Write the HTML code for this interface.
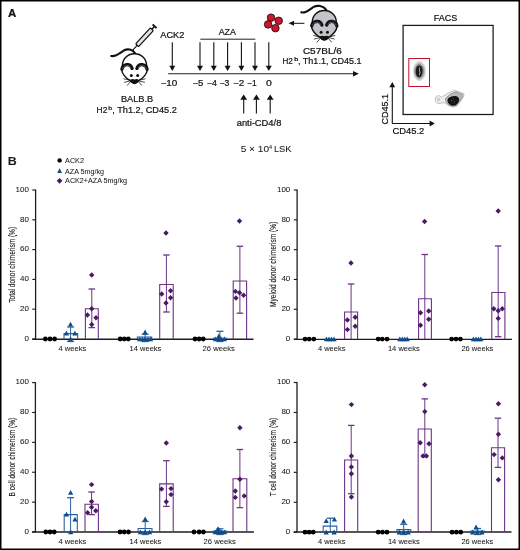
<!DOCTYPE html>
<html><head><meta charset="utf-8"><style>
html,body{margin:0;padding:0;background:#fff;}
body{width:520px;height:550px;overflow:hidden;}
svg{display:block;font-family:"Liberation Sans", sans-serif;}
text{-webkit-font-smoothing:antialiased;stroke:#141414;stroke-width:0.22px;}
.pb text{stroke-width:0.05px;fill:#1a1a1a;}
svg{will-change:transform;}
</style></head><body>
<svg width="520" height="550" viewBox="0 0 520 550">
<rect x="0" y="0" width="520" height="550" fill="#fff"/>
<text x="0" y="0" font-size="11.05" font-weight="bold" fill="#111" transform="translate(8.01,16.80) scale(1.0390,1)">A</text>
<line x1="168.2" y1="73.8" x2="354" y2="73.8" stroke="#222" stroke-width="1.1"/>
<path d="M353 71.0L358.8 73.8L353 76.6Z" fill="#111"/>
<line x1="172.3" y1="42.3" x2="172.3" y2="66.19999999999999" stroke="#111" stroke-width="1.1"/>
<path d="M169.3 65.69999999999999L175.3 65.69999999999999L172.3 71.1Z" fill="#111"/>
<line x1="200.0" y1="42.3" x2="200.0" y2="66.19999999999999" stroke="#111" stroke-width="1.1"/>
<path d="M197.0 65.69999999999999L203.0 65.69999999999999L200.0 71.1Z" fill="#111"/>
<line x1="213.8" y1="42.3" x2="213.8" y2="66.19999999999999" stroke="#111" stroke-width="1.1"/>
<path d="M210.8 65.69999999999999L216.8 65.69999999999999L213.8 71.1Z" fill="#111"/>
<line x1="227.6" y1="42.3" x2="227.6" y2="66.19999999999999" stroke="#111" stroke-width="1.1"/>
<path d="M224.6 65.69999999999999L230.6 65.69999999999999L227.6 71.1Z" fill="#111"/>
<line x1="241.4" y1="42.3" x2="241.4" y2="66.19999999999999" stroke="#111" stroke-width="1.1"/>
<path d="M238.4 65.69999999999999L244.4 65.69999999999999L241.4 71.1Z" fill="#111"/>
<line x1="255.0" y1="42.3" x2="255.0" y2="66.19999999999999" stroke="#111" stroke-width="1.1"/>
<path d="M252.0 65.69999999999999L258.0 65.69999999999999L255.0 71.1Z" fill="#111"/>
<line x1="268.8" y1="42.3" x2="268.8" y2="66.19999999999999" stroke="#111" stroke-width="1.1"/>
<path d="M265.8 65.69999999999999L271.8 65.69999999999999L268.8 71.1Z" fill="#111"/>
<line x1="200.3" y1="39.2" x2="255.3" y2="39.2" stroke="#222" stroke-width="1"/>
<text x="0" y="0" font-size="9.02" font-weight="normal" fill="#141414" transform="translate(160.28,38.20) scale(1.0260,1)">ACK2</text>
<text x="0" y="0" font-size="8.87" font-weight="normal" fill="#141414" transform="translate(218.68,35.00) scale(1.0053,1)">AZA</text>
<text x="0" y="0" font-size="8.60" font-weight="normal" fill="#141414" transform="translate(160.51,85.80) scale(1.1571,1)">−10</text>
<text x="0" y="0" font-size="8.60" font-weight="normal" fill="#141414" transform="translate(192.53,85.80) scale(1.1087,1)">−5</text>
<text x="0" y="0" font-size="8.60" font-weight="normal" fill="#141414" transform="translate(206.77,85.80) scale(1.0187,1)">−4</text>
<text x="0" y="0" font-size="8.60" font-weight="normal" fill="#141414" transform="translate(219.58,85.80) scale(0.9997,1)">−3</text>
<text x="0" y="0" font-size="8.60" font-weight="normal" fill="#141414" transform="translate(233.01,85.80) scale(1.1510,1)">−2</text>
<text x="0" y="0" font-size="8.60" font-weight="normal" fill="#141414" transform="translate(246.98,85.80) scale(0.9820,1)">−1</text>
<text x="0" y="0" font-size="8.60" font-weight="normal" fill="#141414" transform="translate(265.99,85.80) scale(1.2162,1)">0</text>
<line x1="243.7" y1="113.5" x2="243.7" y2="99.30000000000001" stroke="#111" stroke-width="1.1"/>
<path d="M240.29999999999998 99.80000000000001L247.1 99.80000000000001L243.7 94.4Z" fill="#111"/>
<line x1="256.4" y1="113.5" x2="256.4" y2="99.30000000000001" stroke="#111" stroke-width="1.1"/>
<path d="M252.99999999999997 99.80000000000001L259.79999999999995 99.80000000000001L256.4 94.4Z" fill="#111"/>
<line x1="270.2" y1="113.5" x2="270.2" y2="99.30000000000001" stroke="#111" stroke-width="1.1"/>
<path d="M266.8 99.80000000000001L273.59999999999997 99.80000000000001L270.2 94.4Z" fill="#111"/>
<text x="0" y="0" font-size="8.60" font-weight="normal" fill="#141414" transform="translate(236.70,126.20) scale(1.0875,1)">anti-CD4/8</text>
<text x="0" y="0" font-size="8.87" font-weight="normal" fill="#141414" transform="translate(120.94,102.30) scale(1.0384,1)">BALB.B</text>
<text x="0" y="0" font-size="9.02" font-weight="normal" fill="#141414" transform="translate(96.61,113.20) scale(0.9284,1)">H2</text>
<text x="0" y="0" font-size="6.07" font-weight="normal" fill="#141414" transform="translate(108.36,110.00) scale(1.1352,1)">b</text>
<text x="0" y="0" font-size="9.00" font-weight="normal" fill="#141414" transform="translate(112.28,113.20) scale(1.0181,1)">, Th1.2, CD45.2</text>
<text x="0" y="0" font-size="8.42" font-weight="normal" fill="#141414" transform="translate(302.89,53.90) scale(1.1889,1)">C57BL/6</text>
<text x="0" y="0" font-size="8.74" font-weight="normal" fill="#141414" transform="translate(282.43,64.10) scale(0.9289,1)">H2</text>
<text x="0" y="0" font-size="5.80" font-weight="normal" fill="#141414" transform="translate(294.13,61.00) scale(1.2660,1)">b</text>
<text x="0" y="0" font-size="8.80" font-weight="normal" fill="#141414" transform="translate(297.99,64.10) scale(1.0263,1)">, Th1.1, CD45.1</text>
<circle cx="271.0" cy="17.7" r="3.75" fill="#d0142f" stroke="#2a0a0e" stroke-width="0.9"/>
<circle cx="278.7" cy="20.8" r="3.75" fill="#d0142f" stroke="#2a0a0e" stroke-width="0.9"/>
<circle cx="268.1" cy="24.4" r="3.75" fill="#d0142f" stroke="#2a0a0e" stroke-width="0.9"/>
<circle cx="275.4" cy="28.2" r="3.75" fill="#d0142f" stroke="#2a0a0e" stroke-width="0.9"/>
<line x1="293" y1="23.3" x2="304.4" y2="23.3" stroke="#111" stroke-width="1"/>
<path d="M294 20.8L294 25.8L288.6 23.3Z" fill="#111"/>
<g transform="translate(324.3,10.5)">
<path d="M-23 1.8C-19 3.2 -15 -0.8 -11 -3.4C-7 -5.6 -1 -5 2 -0.6" fill="none" stroke="#111" stroke-width="2.1" stroke-linecap="round"/>
<path d="M0 0C6.8 0 11.8 4.8 12 11.2C12.6 13 13 15 12.8 16.2C12.4 20 8.5 24.5 4.6 26.6Q2.4 29.6 0 29.6Q-2.4 29.6 -4.6 26.6C-8.5 24.5 -12.4 20 -12.8 16.2C-13 15 -12.6 13 -12 11.2C-11.8 4.8 -6.8 0 0 0Z" fill="#c4c4ca" stroke="#111" stroke-width="1.45"/>
<path d="M-12.6 15.4C-11.6 10.4 -4.4 8.6 -2.4 14.6" fill="none" stroke="#111" stroke-width="3.3" stroke-linecap="round"/>
<path d="M-11.9 15.0C-11.0 11.4 -5.2 10.2 -3.6 14.2" fill="none" stroke="#4c6585" stroke-width="0.9"/>
<path d="M12.6 15.4C11.6 10.4 4.4 8.6 2.4 14.6" fill="none" stroke="#111" stroke-width="3.3" stroke-linecap="round"/>
<path d="M11.9 15.0C11.0 11.4 5.2 10.2 3.6 14.2" fill="none" stroke="#4c6585" stroke-width="0.9"/>
<circle cx="-3.2" cy="21.8" r="1.5" fill="#111"/><circle cx="3.2" cy="21.8" r="1.5" fill="#111"/>
<path d="M-4.4 26.1Q-2.2 24.4 0 25.8Q2.2 24.4 4.4 26.1Q3.2 29.9 0 29.9Q-3.2 29.9 -4.4 26.1Z" fill="#111"/>
<path d="M-4 26.4L-11 25.0M-4 27L-10.4 28.6M-3.8 27.6L-7.4 31.8" stroke="#111" stroke-width="0.75" fill="none"/>
<path d="M4 26.4L11 25.0M4 27L10.4 28.6M3.8 27.6L7.4 31.8" stroke="#111" stroke-width="0.75" fill="none"/>
</g>
<g transform="translate(134.5,53.8)">
<path d="M-23.3 2.2C-19 3.2 -15 -0.5 -10.5 -3.4C-7 -5.4 -2 -4.6 0.6 -0.4" fill="none" stroke="#111" stroke-width="2.1" stroke-linecap="round"/>
<path d="M0 0C6.8 0 11.8 4.8 12 11.2C12.6 13 13 15 12.8 16.2C12.4 20 8.5 24.5 4.6 26.6Q2.4 29.6 0 29.6Q-2.4 29.6 -4.6 26.6C-8.5 24.5 -12.4 20 -12.8 16.2C-13 15 -12.6 13 -12 11.2C-11.8 4.8 -6.8 0 0 0Z" fill="#ffffff" stroke="#111" stroke-width="1.45"/>
<path d="M-12.6 15.4C-11.6 10.4 -4.4 8.6 -2.4 14.6" fill="none" stroke="#111" stroke-width="3.3" stroke-linecap="round"/>
<path d="M-11.9 15.0C-11.0 11.4 -5.2 10.2 -3.6 14.2" fill="none" stroke="#4c6585" stroke-width="0.9"/>
<path d="M12.6 15.4C11.6 10.4 4.4 8.6 2.4 14.6" fill="none" stroke="#111" stroke-width="3.3" stroke-linecap="round"/>
<path d="M11.9 15.0C11.0 11.4 5.2 10.2 3.6 14.2" fill="none" stroke="#4c6585" stroke-width="0.9"/>
<circle cx="-3.2" cy="21.8" r="1.5" fill="#111"/><circle cx="3.2" cy="21.8" r="1.5" fill="#111"/>
<path d="M-4.4 26.1Q-2.2 24.4 0 25.8Q2.2 24.4 4.4 26.1Q3.2 29.9 0 29.9Q-3.2 29.9 -4.4 26.1Z" fill="#111"/>
<path d="M-4 26.4L-11 25.0M-4 27L-10.4 28.6M-3.8 27.6L-7.4 31.8" stroke="#111" stroke-width="0.75" fill="none"/>
<path d="M4 26.4L11 25.0M4 27L10.4 28.6M3.8 27.6L7.4 31.8" stroke="#111" stroke-width="0.75" fill="none"/>
</g>
<g transform="translate(154.6,26.3) rotate(132.7)">
<line x1="0" y1="-2.7" x2="0" y2="2.7" stroke="#111" stroke-width="1.8"/>
<line x1="0" y1="0" x2="4" y2="0" stroke="#111" stroke-width="1.4"/>
<rect x="4" y="-2.0" width="21.8" height="4.0" rx="1" fill="#e6e6e6" stroke="#111" stroke-width="1.25"/>
<line x1="25.8" y1="0" x2="32.6" y2="0" stroke="#111" stroke-width="1.1"/>
</g>
<text x="0" y="0" font-size="8.88" font-weight="normal" fill="#141414" transform="translate(433.86,20.80) scale(1.0113,1)">FACS</text>
<rect x="403.1" y="25.4" width="90" height="89.1" fill="none" stroke="#1a1a1a" stroke-width="1.25"/>
<rect x="408.8" y="58.5" width="20.7" height="28" fill="none" stroke="#c8102e" stroke-width="1"/>
<ellipse cx="419.4" cy="71.1" rx="5.9" ry="9.6" fill="#f2f2f2" stroke="#aaa" stroke-width="0.5"/>
<ellipse cx="419.4" cy="71.1" rx="5.0" ry="8.4" fill="#d6d6d6" stroke="#888" stroke-width="0.5"/>
<ellipse cx="419.3" cy="71.2" rx="4.1" ry="7.0" fill="#9a9a9a" stroke="#555" stroke-width="0.5"/>
<path d="M416.2 68.5C416.4 66 418 65.4 419.6 65.6C421.6 66 422.8 68 422.6 71C422.4 74.5 421.4 77 419.2 77.2C417 77.3 416 75 415.8 72.5C415.7 71 415.9 69.6 416.2 68.5Z" fill="#1c1c1c"/>
<path d="M419.4 67.4C420.4 68.6 418.8 70 419.8 71.4C420.6 72.8 419 74 419.6 75.2" fill="none" stroke="#cfcfcf" stroke-width="0.9"/>
<path d="M441.5 97.2C444 96 449 92 455 90.4L463.8 93.6C464.2 96 463 98 462 99.2L457 106C455 107.2 452 107.2 450 106.2C447 104.6 445 103 443 102.4C441 103.6 439 103.6 437.5 103.2C434.4 102.2 434.4 96.8 437.5 95.8C439 95.4 440.5 96.4 441.5 97.2Z" fill="#f0f0f0" stroke="#8a8a8a" stroke-width="0.55"/>
<path d="M445.6 98.2C448.6 95.2 452.6 92.4 456 91.8L462.4 94.4C462.8 96.8 461.4 98.8 460.2 100.4L456.4 105.2C453.4 106.4 450.4 105.8 448.2 104.4C446.2 102.8 444.8 100.2 445.6 98.2Z" fill="#b8b8b8" stroke="#666" stroke-width="0.5"/>
<path d="M448 98.5C450 96.5 453 95.6 455.5 96C458 96.3 459.6 98 459.1 100.5C458.4 103 456.6 105.5 453.6 105.8C450.6 106 448.6 104 447.8 102C447.3 100.8 447.4 99.4 448 98.5Z" fill="#141414"/>
<circle cx="451.6" cy="100.6" r="0.55" fill="#888"/><circle cx="453.6" cy="98.9" r="0.45" fill="#888"/><circle cx="454.6" cy="101.8" r="0.55" fill="#777"/><circle cx="452.8" cy="103.2" r="0.4" fill="#777"/>
<ellipse cx="438.6" cy="99.5" rx="1.3" ry="1.2" fill="none" stroke="#888" stroke-width="0.5"/>
<path d="M392.3 123.5V86.5M392.3 123.5H430" fill="none" stroke="#111" stroke-width="1.1"/>
<path d="M389.4 87.2L395.2 87.2L392.3 81.9Z" fill="#111"/>
<path d="M429.6 120.6L429.6 126.4L434.8 123.5Z" fill="#111"/>
<text x="0" y="0" font-size="9.1" fill="#141414" transform="translate(388.2,124.46) rotate(-90) scale(0.9917,1)" style="stroke-width:0.22px">CD45.1</text>
<text x="0" y="0" font-size="8.88" font-weight="normal" fill="#141414" transform="translate(392.52,134.20) scale(1.0545,1)">CD45.2</text>
<g class="pb">
<text x="0" y="0" font-size="10.61" font-weight="bold" fill="#111" transform="translate(7.87,164.60) scale(1.1745,1)">B</text>
<text x="0" y="0" font-size="8.16" font-weight="normal" fill="#141414" transform="translate(240.70,152.30) scale(1.2389,1)">5 × 10</text>
<text x="0" y="0" font-size="4.94" font-weight="normal" fill="#141414" transform="translate(269.07,149.40) scale(1.1244,1)">4</text>
<text x="0" y="0" font-size="8.16" font-weight="normal" fill="#141414" transform="translate(273.93,152.30) scale(1.1453,1)">LSK</text>
<circle cx="59.6" cy="160.4" r="2.2" fill="#000"/>
<path d="M59.60 168.33L62.00 172.93L57.20 172.93Z" fill="#0d4c8c"/>
<path d="M59.60 177.90L62.50 180.80L59.60 183.70L56.70 180.80Z" fill="#4b1a66"/>
<text x="0" y="0" font-size="7.16" font-weight="normal" fill="#141414" transform="translate(65.09,162.80) scale(1.0092,1)">ACK2</text>
<text x="0" y="0" font-size="7.30" font-weight="normal" fill="#141414" transform="translate(65.09,173.50) scale(0.9804,1)">AZA 5mg/kg</text>
<text x="0" y="0" font-size="7.30" font-weight="normal" fill="#141414" transform="translate(65.09,183.40) scale(0.9839,1)">ACK2+AZA 5mg/kg</text>
<line x1="35.6" y1="189.5" x2="35.6" y2="339.5" stroke="#1e1e1e" stroke-width="1.3"/>
<line x1="32.300000000000004" y1="339.2" x2="253.5" y2="339.2" stroke="#1e1e1e" stroke-width="1.35"/>
<line x1="32.300000000000004" y1="339.00" x2="35.6" y2="339.00" stroke="#1e1e1e" stroke-width="1.15"/>
<text x="0" y="0" font-size="7.16" font-weight="normal" fill="#141414" transform="translate(24.45,340.80) scale(1.1199,1)">0</text>
<line x1="32.300000000000004" y1="309.20" x2="35.6" y2="309.20" stroke="#1e1e1e" stroke-width="1.15"/>
<text x="0" y="0" font-size="7.16" font-weight="normal" fill="#141414" transform="translate(19.99,311.00) scale(1.1199,1)">20</text>
<line x1="32.300000000000004" y1="279.40" x2="35.6" y2="279.40" stroke="#1e1e1e" stroke-width="1.15"/>
<text x="0" y="0" font-size="7.16" font-weight="normal" fill="#141414" transform="translate(19.99,281.20) scale(1.1199,1)">40</text>
<line x1="32.300000000000004" y1="249.60" x2="35.6" y2="249.60" stroke="#1e1e1e" stroke-width="1.15"/>
<text x="0" y="0" font-size="7.16" font-weight="normal" fill="#141414" transform="translate(19.99,251.40) scale(1.1199,1)">60</text>
<line x1="32.300000000000004" y1="219.80" x2="35.6" y2="219.80" stroke="#1e1e1e" stroke-width="1.15"/>
<text x="0" y="0" font-size="7.16" font-weight="normal" fill="#141414" transform="translate(19.99,221.60) scale(1.1199,1)">80</text>
<line x1="32.300000000000004" y1="190.00" x2="35.6" y2="190.00" stroke="#1e1e1e" stroke-width="1.15"/>
<text x="0" y="0" font-size="7.16" font-weight="normal" fill="#141414" transform="translate(15.53,191.80) scale(1.1199,1)">100</text>
<text x="0" y="0" font-size="8.2" fill="#141414" transform="translate(14.6,302.75) rotate(-90) scale(0.7972,1)" style="stroke-width:0.14px">Total donor chimerism (%)</text>
<circle cx="45.4" cy="339.0" r="2.4" fill="#000"/>
<circle cx="50.0" cy="339.0" r="2.4" fill="#000"/>
<circle cx="54.6" cy="339.0" r="2.4" fill="#000"/>
<path d="M64 339.0V333.6H77.7V339.0" fill="none" stroke="#2a62a0" stroke-width="1.1"/>
<line x1="70.6" y1="327" x2="70.6" y2="341.5" stroke="#2a62a0" stroke-width="1.0"/>
<line x1="67.1" y1="327" x2="74.1" y2="327" stroke="#2a62a0" stroke-width="1.3"/>
<line x1="67.1" y1="341.5" x2="74.1" y2="341.5" stroke="#2a62a0" stroke-width="1.3"/>
<path d="M70.50 321.82L73.10 326.62L67.90 326.62Z" fill="#0d4c8c"/>
<path d="M66.40 330.62L69.00 335.42L63.80 335.42Z" fill="#0d4c8c"/>
<path d="M74.90 330.82L77.50 335.62L72.30 335.62Z" fill="#0d4c8c"/>
<path d="M70.50 336.42L73.10 341.22L67.90 341.22Z" fill="#0d4c8c"/>
<path d="M85.4 339.0V308.7H98.3V339.0" fill="none" stroke="#6e3386" stroke-width="1.1"/>
<line x1="91.8" y1="289" x2="91.8" y2="327.6" stroke="#6e3386" stroke-width="1.0"/>
<line x1="88.55" y1="289" x2="95.05" y2="289" stroke="#6e3386" stroke-width="1.3"/>
<line x1="88.55" y1="327.6" x2="95.05" y2="327.6" stroke="#6e3386" stroke-width="1.3"/>
<path d="M91.70 272.30L94.40 275.00L91.70 277.70L89.00 275.00Z" fill="#4b1a66"/>
<path d="M91.70 306.00L94.40 308.70L91.70 311.40L89.00 308.70Z" fill="#4b1a66"/>
<path d="M87.40 312.30L90.10 315.00L87.40 317.70L84.70 315.00Z" fill="#4b1a66"/>
<path d="M96.00 315.10L98.70 317.80L96.00 320.50L93.30 317.80Z" fill="#4b1a66"/>
<path d="M91.70 321.80L94.40 324.50L91.70 327.20L89.00 324.50Z" fill="#4b1a66"/>
<text x="0" y="0" font-size="7.31" font-weight="normal" fill="#141414" transform="translate(58.53,350.50) scale(1.0379,1)">4 weeks</text>
<circle cx="120.2" cy="339.0" r="2.4" fill="#000"/>
<circle cx="124.2" cy="339.0" r="2.4" fill="#000"/>
<circle cx="128.3" cy="339.0" r="2.4" fill="#000"/>
<path d="M137.3 339.0V337.0H151.7V339.0" fill="none" stroke="#2a62a0" stroke-width="1.1"/>
<line x1="145.1" y1="334.2" x2="145.1" y2="341.5" stroke="#2a62a0" stroke-width="1.0"/>
<line x1="141.6" y1="334.2" x2="148.6" y2="334.2" stroke="#2a62a0" stroke-width="1.3"/>
<line x1="141.6" y1="341.5" x2="148.6" y2="341.5" stroke="#2a62a0" stroke-width="1.3"/>
<path d="M145.10 329.62L147.70 334.42L142.50 334.42Z" fill="#0d4c8c"/>
<path d="M139.60 336.42L142.20 341.22L137.00 341.22Z" fill="#0d4c8c"/>
<path d="M142.40 336.42L145.00 341.22L139.80 341.22Z" fill="#0d4c8c"/>
<path d="M145.10 336.42L147.70 341.22L142.50 341.22Z" fill="#0d4c8c"/>
<path d="M147.90 336.42L150.50 341.22L145.30 341.22Z" fill="#0d4c8c"/>
<path d="M150.60 336.42L153.20 341.22L148.00 341.22Z" fill="#0d4c8c"/>
<path d="M159.7 339.0V284.5H173.2V339.0" fill="none" stroke="#6e3386" stroke-width="1.1"/>
<line x1="166.4" y1="255" x2="166.4" y2="312" stroke="#6e3386" stroke-width="1.0"/>
<line x1="163.15" y1="255" x2="169.65" y2="255" stroke="#6e3386" stroke-width="1.3"/>
<line x1="163.15" y1="312" x2="169.65" y2="312" stroke="#6e3386" stroke-width="1.3"/>
<path d="M166.00 230.30L168.70 233.00L166.00 235.70L163.30 233.00Z" fill="#4b1a66"/>
<path d="M161.70 291.30L164.40 294.00L161.70 296.70L159.00 294.00Z" fill="#4b1a66"/>
<path d="M170.60 288.10L173.30 290.80L170.60 293.50L167.90 290.80Z" fill="#4b1a66"/>
<path d="M170.60 295.00L173.30 297.70L170.60 300.40L167.90 297.70Z" fill="#4b1a66"/>
<path d="M166.00 300.30L168.70 303.00L166.00 305.70L163.30 303.00Z" fill="#4b1a66"/>
<text x="0" y="0" font-size="7.31" font-weight="normal" fill="#141414" transform="translate(129.52,350.50) scale(1.0340,1)">14 weeks</text>
<circle cx="195" cy="339.0" r="2.4" fill="#000"/>
<circle cx="199.1" cy="339.0" r="2.4" fill="#000"/>
<circle cx="203.2" cy="339.0" r="2.4" fill="#000"/>
<path d="M213.2 339.0V338.3H226.9V339.0" fill="none" stroke="#2a62a0" stroke-width="1.1"/>
<line x1="219.9" y1="331.3" x2="219.9" y2="341.5" stroke="#2a62a0" stroke-width="1.0"/>
<line x1="216.4" y1="331.3" x2="223.4" y2="331.3" stroke="#2a62a0" stroke-width="1.3"/>
<line x1="216.4" y1="341.5" x2="223.4" y2="341.5" stroke="#2a62a0" stroke-width="1.3"/>
<path d="M218.80 333.52L221.40 338.32L216.20 338.32Z" fill="#0d4c8c"/>
<path d="M215.40 336.42L218.00 341.22L212.80 341.22Z" fill="#0d4c8c"/>
<path d="M218.20 336.42L220.80 341.22L215.60 341.22Z" fill="#0d4c8c"/>
<path d="M221.20 336.42L223.80 341.22L218.60 341.22Z" fill="#0d4c8c"/>
<path d="M224.40 336.42L227.00 341.22L221.80 341.22Z" fill="#0d4c8c"/>
<path d="M233.2 339.0V281H246.6V339.0" fill="none" stroke="#6e3386" stroke-width="1.1"/>
<line x1="239.9" y1="246.3" x2="239.9" y2="313.2" stroke="#6e3386" stroke-width="1.0"/>
<line x1="236.65" y1="246.3" x2="243.15" y2="246.3" stroke="#6e3386" stroke-width="1.3"/>
<line x1="236.65" y1="313.2" x2="243.15" y2="313.2" stroke="#6e3386" stroke-width="1.3"/>
<path d="M239.50 218.30L242.20 221.00L239.50 223.70L236.80 221.00Z" fill="#4b1a66"/>
<path d="M235.40 288.70L238.10 291.40L235.40 294.10L232.70 291.40Z" fill="#4b1a66"/>
<path d="M239.50 290.00L242.20 292.70L239.50 295.40L236.80 292.70Z" fill="#4b1a66"/>
<path d="M243.60 292.50L246.30 295.20L243.60 297.90L240.90 295.20Z" fill="#4b1a66"/>
<path d="M236.00 295.30L238.70 298.00L236.00 300.70L233.30 298.00Z" fill="#4b1a66"/>
<text x="0" y="0" font-size="7.31" font-weight="normal" fill="#141414" transform="translate(202.62,350.50) scale(1.0440,1)">26 weeks</text>
<line x1="297.1" y1="189.5" x2="297.1" y2="339.6" stroke="#1e1e1e" stroke-width="1.3"/>
<line x1="293.8" y1="339.3" x2="512.0" y2="339.3" stroke="#1e1e1e" stroke-width="1.35"/>
<line x1="293.8" y1="339.10" x2="297.1" y2="339.10" stroke="#1e1e1e" stroke-width="1.15"/>
<text x="0" y="0" font-size="7.16" font-weight="normal" fill="#141414" transform="translate(285.85,340.90) scale(1.1199,1)">0</text>
<line x1="293.8" y1="309.28" x2="297.1" y2="309.28" stroke="#1e1e1e" stroke-width="1.15"/>
<text x="0" y="0" font-size="7.16" font-weight="normal" fill="#141414" transform="translate(281.39,311.08) scale(1.1199,1)">20</text>
<line x1="293.8" y1="279.46" x2="297.1" y2="279.46" stroke="#1e1e1e" stroke-width="1.15"/>
<text x="0" y="0" font-size="7.16" font-weight="normal" fill="#141414" transform="translate(281.39,281.26) scale(1.1199,1)">40</text>
<line x1="293.8" y1="249.64" x2="297.1" y2="249.64" stroke="#1e1e1e" stroke-width="1.15"/>
<text x="0" y="0" font-size="7.16" font-weight="normal" fill="#141414" transform="translate(281.39,251.44) scale(1.1199,1)">60</text>
<line x1="293.8" y1="219.82" x2="297.1" y2="219.82" stroke="#1e1e1e" stroke-width="1.15"/>
<text x="0" y="0" font-size="7.16" font-weight="normal" fill="#141414" transform="translate(281.39,221.62) scale(1.1199,1)">80</text>
<line x1="293.8" y1="190.00" x2="297.1" y2="190.00" stroke="#1e1e1e" stroke-width="1.15"/>
<text x="0" y="0" font-size="7.16" font-weight="normal" fill="#141414" transform="translate(276.93,191.80) scale(1.1199,1)">100</text>
<text x="0" y="0" font-size="8.2" fill="#141414" transform="translate(276.2,307.04) rotate(-90) scale(0.8048,1)" style="stroke-width:0.14px">Myeloid donor chimerism (%)</text>
<circle cx="305" cy="339.1" r="2.4" fill="#000"/>
<circle cx="309.2" cy="339.1" r="2.4" fill="#000"/>
<circle cx="313.8" cy="339.1" r="2.4" fill="#000"/>
<path d="M326.50 336.42L329.10 341.22L323.90 341.22Z" fill="#0d4c8c"/>
<path d="M329.00 336.42L331.60 341.22L326.40 341.22Z" fill="#0d4c8c"/>
<path d="M331.50 336.42L334.10 341.22L328.90 341.22Z" fill="#0d4c8c"/>
<path d="M334.10 336.42L336.70 341.22L331.50 341.22Z" fill="#0d4c8c"/>
<path d="M344.6 339.1V312H357.6V339.1" fill="none" stroke="#6e3386" stroke-width="1.1"/>
<line x1="351.1" y1="284" x2="351.1" y2="339.1" stroke="#6e3386" stroke-width="1.0"/>
<line x1="347.85" y1="284" x2="354.35" y2="284" stroke="#6e3386" stroke-width="1.3"/>
<path d="M351.00 260.30L353.70 263.00L351.00 265.70L348.30 263.00Z" fill="#4b1a66"/>
<path d="M347.40 317.30L350.10 320.00L347.40 322.70L344.70 320.00Z" fill="#4b1a66"/>
<path d="M355.20 314.50L357.90 317.20L355.20 319.90L352.50 317.20Z" fill="#4b1a66"/>
<path d="M355.20 323.50L357.90 326.20L355.20 328.90L352.50 326.20Z" fill="#4b1a66"/>
<path d="M347.40 326.90L350.10 329.60L347.40 332.30L344.70 329.60Z" fill="#4b1a66"/>
<text x="0" y="0" font-size="7.31" font-weight="normal" fill="#141414" transform="translate(317.93,350.50) scale(1.0265,1)">4 weeks</text>
<circle cx="378.2" cy="339.1" r="2.4" fill="#000"/>
<circle cx="382.3" cy="339.1" r="2.4" fill="#000"/>
<circle cx="387" cy="339.1" r="2.4" fill="#000"/>
<path d="M399.80 336.42L402.40 341.22L397.20 341.22Z" fill="#0d4c8c"/>
<path d="M402.30 336.42L404.90 341.22L399.70 341.22Z" fill="#0d4c8c"/>
<path d="M404.80 336.42L407.40 341.22L402.20 341.22Z" fill="#0d4c8c"/>
<path d="M407.30 336.42L409.90 341.22L404.70 341.22Z" fill="#0d4c8c"/>
<path d="M418.6 339.1V298.7H431.4V339.1" fill="none" stroke="#6e3386" stroke-width="1.1"/>
<line x1="424.8" y1="254.5" x2="424.8" y2="339.1" stroke="#6e3386" stroke-width="1.0"/>
<line x1="421.55" y1="254.5" x2="428.05" y2="254.5" stroke="#6e3386" stroke-width="1.3"/>
<path d="M424.60 218.80L427.30 221.50L424.60 224.20L421.90 221.50Z" fill="#4b1a66"/>
<path d="M420.50 310.00L423.20 312.70L420.50 315.40L417.80 312.70Z" fill="#4b1a66"/>
<path d="M428.70 308.30L431.40 311.00L428.70 313.70L426.00 311.00Z" fill="#4b1a66"/>
<path d="M428.70 316.50L431.40 319.20L428.70 321.90L426.00 319.20Z" fill="#4b1a66"/>
<path d="M420.50 322.50L423.20 325.20L420.50 327.90L417.80 325.20Z" fill="#4b1a66"/>
<text x="0" y="0" font-size="7.31" font-weight="normal" fill="#141414" transform="translate(387.92,350.50) scale(1.0340,1)">14 weeks</text>
<circle cx="451.6" cy="339.1" r="2.4" fill="#000"/>
<circle cx="456" cy="339.1" r="2.4" fill="#000"/>
<circle cx="460.4" cy="339.1" r="2.4" fill="#000"/>
<path d="M473.40 336.42L476.00 341.22L470.80 341.22Z" fill="#0d4c8c"/>
<path d="M475.90 336.42L478.50 341.22L473.30 341.22Z" fill="#0d4c8c"/>
<path d="M478.40 336.42L481.00 341.22L475.80 341.22Z" fill="#0d4c8c"/>
<path d="M480.90 336.42L483.50 341.22L478.30 341.22Z" fill="#0d4c8c"/>
<path d="M491.8 339.1V292.5H504.9V339.1" fill="none" stroke="#6e3386" stroke-width="1.1"/>
<line x1="498.2" y1="246" x2="498.2" y2="336.7" stroke="#6e3386" stroke-width="1.0"/>
<line x1="494.95" y1="246" x2="501.45" y2="246" stroke="#6e3386" stroke-width="1.3"/>
<line x1="494.95" y1="336.7" x2="501.45" y2="336.7" stroke="#6e3386" stroke-width="1.3"/>
<path d="M498.20 208.30L500.90 211.00L498.20 213.70L495.50 211.00Z" fill="#4b1a66"/>
<path d="M493.80 306.10L496.50 308.80L493.80 311.50L491.10 308.80Z" fill="#4b1a66"/>
<path d="M498.20 308.10L500.90 310.80L498.20 313.50L495.50 310.80Z" fill="#4b1a66"/>
<path d="M502.30 306.10L505.00 308.80L502.30 311.50L499.60 308.80Z" fill="#4b1a66"/>
<path d="M498.20 315.70L500.90 318.40L498.20 321.10L495.50 318.40Z" fill="#4b1a66"/>
<text x="0" y="0" font-size="7.31" font-weight="normal" fill="#141414" transform="translate(461.42,350.50) scale(1.0308,1)">26 weeks</text>
<line x1="35.4" y1="382.1" x2="35.4" y2="532.5" stroke="#1e1e1e" stroke-width="1.3"/>
<line x1="32.1" y1="532.0" x2="253.9" y2="532.0" stroke="#1e1e1e" stroke-width="1.35"/>
<line x1="32.1" y1="532.00" x2="35.4" y2="532.00" stroke="#1e1e1e" stroke-width="1.15"/>
<text x="0" y="0" font-size="7.16" font-weight="normal" fill="#141414" transform="translate(24.45,533.80) scale(1.1199,1)">0</text>
<line x1="32.1" y1="502.12" x2="35.4" y2="502.12" stroke="#1e1e1e" stroke-width="1.15"/>
<text x="0" y="0" font-size="7.16" font-weight="normal" fill="#141414" transform="translate(19.99,503.92) scale(1.1199,1)">20</text>
<line x1="32.1" y1="472.24" x2="35.4" y2="472.24" stroke="#1e1e1e" stroke-width="1.15"/>
<text x="0" y="0" font-size="7.16" font-weight="normal" fill="#141414" transform="translate(19.99,474.04) scale(1.1199,1)">40</text>
<line x1="32.1" y1="442.36" x2="35.4" y2="442.36" stroke="#1e1e1e" stroke-width="1.15"/>
<text x="0" y="0" font-size="7.16" font-weight="normal" fill="#141414" transform="translate(19.99,444.16) scale(1.1199,1)">60</text>
<line x1="32.1" y1="412.48" x2="35.4" y2="412.48" stroke="#1e1e1e" stroke-width="1.15"/>
<text x="0" y="0" font-size="7.16" font-weight="normal" fill="#141414" transform="translate(19.99,414.28) scale(1.1199,1)">80</text>
<line x1="32.1" y1="382.60" x2="35.4" y2="382.60" stroke="#1e1e1e" stroke-width="1.15"/>
<text x="0" y="0" font-size="7.16" font-weight="normal" fill="#141414" transform="translate(15.53,384.40) scale(1.1199,1)">100</text>
<text x="0" y="0" font-size="8.2" fill="#141414" transform="translate(14.6,496.54) rotate(-90) scale(0.8059,1)" style="stroke-width:0.14px">B cell donor chimerism (%)</text>
<circle cx="45.8" cy="532.0" r="2.4" fill="#000"/>
<circle cx="50" cy="532.0" r="2.4" fill="#000"/>
<circle cx="54.2" cy="532.0" r="2.4" fill="#000"/>
<path d="M64.2 532.0V514.6H77.3V532.0" fill="none" stroke="#2a62a0" stroke-width="1.1"/>
<line x1="70.6" y1="497.7" x2="70.6" y2="532" stroke="#2a62a0" stroke-width="1.0"/>
<line x1="67.1" y1="497.7" x2="74.1" y2="497.7" stroke="#2a62a0" stroke-width="1.3"/>
<path d="M70.60 490.02L73.20 494.82L68.00 494.82Z" fill="#0d4c8c"/>
<path d="M66.50 511.82L69.10 516.62L63.90 516.62Z" fill="#0d4c8c"/>
<path d="M75.00 516.72L77.60 521.52L72.40 521.52Z" fill="#0d4c8c"/>
<path d="M70.70 529.52L73.30 534.32L68.10 534.32Z" fill="#0d4c8c"/>
<path d="M85 532.0V504.2H98.4V532.0" fill="none" stroke="#6e3386" stroke-width="1.1"/>
<line x1="91.6" y1="492" x2="91.6" y2="514.6" stroke="#6e3386" stroke-width="1.0"/>
<line x1="88.35" y1="492" x2="94.85" y2="492" stroke="#6e3386" stroke-width="1.3"/>
<line x1="88.35" y1="514.6" x2="94.85" y2="514.6" stroke="#6e3386" stroke-width="1.3"/>
<path d="M91.60 481.90L94.30 484.60L91.60 487.30L88.90 484.60Z" fill="#4b1a66"/>
<path d="M91.60 498.80L94.30 501.50L91.60 504.20L88.90 501.50Z" fill="#4b1a66"/>
<path d="M91.60 504.50L94.30 507.20L91.60 509.90L88.90 507.20Z" fill="#4b1a66"/>
<path d="M87.60 510.10L90.30 512.80L87.60 515.50L84.90 512.80Z" fill="#4b1a66"/>
<path d="M95.80 508.10L98.50 510.80L95.80 513.50L93.10 510.80Z" fill="#4b1a66"/>
<text x="0" y="0" font-size="7.31" font-weight="normal" fill="#141414" transform="translate(58.53,543.60) scale(1.0379,1)">4 weeks</text>
<circle cx="120" cy="532.0" r="2.4" fill="#000"/>
<circle cx="124.2" cy="532.0" r="2.4" fill="#000"/>
<circle cx="128.5" cy="532.0" r="2.4" fill="#000"/>
<path d="M138.1 532.0V528.5H152V532.0" fill="none" stroke="#2a62a0" stroke-width="1.1"/>
<line x1="145.2" y1="521.5" x2="145.2" y2="534.5" stroke="#2a62a0" stroke-width="1.0"/>
<line x1="141.7" y1="521.5" x2="148.7" y2="521.5" stroke="#2a62a0" stroke-width="1.3"/>
<line x1="141.7" y1="534.5" x2="148.7" y2="534.5" stroke="#2a62a0" stroke-width="1.3"/>
<path d="M145.20 516.42L147.80 521.22L142.60 521.22Z" fill="#0d4c8c"/>
<path d="M140.40 529.42L143.00 534.22L137.80 534.22Z" fill="#0d4c8c"/>
<path d="M145.00 529.42L147.60 534.22L142.40 534.22Z" fill="#0d4c8c"/>
<path d="M149.60 529.42L152.20 534.22L147.00 534.22Z" fill="#0d4c8c"/>
<path d="M159.7 532.0V483.9H173.2V532.0" fill="none" stroke="#6e3386" stroke-width="1.1"/>
<line x1="166.4" y1="460.7" x2="166.4" y2="506.4" stroke="#6e3386" stroke-width="1.0"/>
<line x1="163.15" y1="460.7" x2="169.65" y2="460.7" stroke="#6e3386" stroke-width="1.3"/>
<line x1="163.15" y1="506.4" x2="169.65" y2="506.4" stroke="#6e3386" stroke-width="1.3"/>
<path d="M166.30 440.30L169.00 443.00L166.30 445.70L163.60 443.00Z" fill="#4b1a66"/>
<path d="M161.60 486.40L164.30 489.10L161.60 491.80L158.90 489.10Z" fill="#4b1a66"/>
<path d="M171.00 485.90L173.70 488.60L171.00 491.30L168.30 488.60Z" fill="#4b1a66"/>
<path d="M171.00 491.90L173.70 494.60L171.00 497.30L168.30 494.60Z" fill="#4b1a66"/>
<path d="M166.30 499.00L169.00 501.70L166.30 504.40L163.60 501.70Z" fill="#4b1a66"/>
<text x="0" y="0" font-size="7.31" font-weight="normal" fill="#141414" transform="translate(129.52,543.60) scale(1.0340,1)">14 weeks</text>
<circle cx="194" cy="532.0" r="2.4" fill="#000"/>
<circle cx="199.1" cy="532.0" r="2.4" fill="#000"/>
<circle cx="203.4" cy="532.0" r="2.4" fill="#000"/>
<path d="M213.2 532.0V531.0H226.8V532.0" fill="none" stroke="#2a62a0" stroke-width="1.1"/>
<line x1="219.9" y1="528.8" x2="219.9" y2="534.5" stroke="#2a62a0" stroke-width="1.0"/>
<line x1="216.4" y1="528.8" x2="223.4" y2="528.8" stroke="#2a62a0" stroke-width="1.3"/>
<line x1="216.4" y1="534.5" x2="223.4" y2="534.5" stroke="#2a62a0" stroke-width="1.3"/>
<path d="M218.10 526.22L220.70 531.02L215.50 531.02Z" fill="#0d4c8c"/>
<path d="M215.20 529.42L217.80 534.22L212.60 534.22Z" fill="#0d4c8c"/>
<path d="M218.40 529.42L221.00 534.22L215.80 534.22Z" fill="#0d4c8c"/>
<path d="M221.60 529.42L224.20 534.22L219.00 534.22Z" fill="#0d4c8c"/>
<path d="M224.60 529.42L227.20 534.22L222.00 534.22Z" fill="#0d4c8c"/>
<path d="M233 532.0V478.8H246.8V532.0" fill="none" stroke="#6e3386" stroke-width="1.1"/>
<line x1="239.9" y1="449.5" x2="239.9" y2="507.6" stroke="#6e3386" stroke-width="1.0"/>
<line x1="236.65" y1="449.5" x2="243.15" y2="449.5" stroke="#6e3386" stroke-width="1.3"/>
<line x1="236.65" y1="507.6" x2="243.15" y2="507.6" stroke="#6e3386" stroke-width="1.3"/>
<path d="M239.90 425.10L242.60 427.80L239.90 430.50L237.20 427.80Z" fill="#4b1a66"/>
<path d="M239.90 476.60L242.60 479.30L239.90 482.00L237.20 479.30Z" fill="#4b1a66"/>
<path d="M235.30 488.30L238.00 491.00L235.30 493.70L232.60 491.00Z" fill="#4b1a66"/>
<path d="M235.30 494.70L238.00 497.40L235.30 500.10L232.60 497.40Z" fill="#4b1a66"/>
<path d="M244.20 493.20L246.90 495.90L244.20 498.60L241.50 495.90Z" fill="#4b1a66"/>
<text x="0" y="0" font-size="7.31" font-weight="normal" fill="#141414" transform="translate(203.62,543.60) scale(1.0440,1)">26 weeks</text>
<line x1="297.0" y1="382.0" x2="297.0" y2="532.7" stroke="#1e1e1e" stroke-width="1.3"/>
<line x1="293.7" y1="532.0" x2="511.5" y2="532.0" stroke="#1e1e1e" stroke-width="1.35"/>
<line x1="293.7" y1="532.20" x2="297.0" y2="532.20" stroke="#1e1e1e" stroke-width="1.15"/>
<text x="0" y="0" font-size="7.16" font-weight="normal" fill="#141414" transform="translate(285.85,534.00) scale(1.1199,1)">0</text>
<line x1="293.7" y1="502.26" x2="297.0" y2="502.26" stroke="#1e1e1e" stroke-width="1.15"/>
<text x="0" y="0" font-size="7.16" font-weight="normal" fill="#141414" transform="translate(281.39,504.06) scale(1.1199,1)">20</text>
<line x1="293.7" y1="472.32" x2="297.0" y2="472.32" stroke="#1e1e1e" stroke-width="1.15"/>
<text x="0" y="0" font-size="7.16" font-weight="normal" fill="#141414" transform="translate(281.39,474.12) scale(1.1199,1)">40</text>
<line x1="293.7" y1="442.38" x2="297.0" y2="442.38" stroke="#1e1e1e" stroke-width="1.15"/>
<text x="0" y="0" font-size="7.16" font-weight="normal" fill="#141414" transform="translate(281.39,444.18) scale(1.1199,1)">60</text>
<line x1="293.7" y1="412.44" x2="297.0" y2="412.44" stroke="#1e1e1e" stroke-width="1.15"/>
<text x="0" y="0" font-size="7.16" font-weight="normal" fill="#141414" transform="translate(281.39,414.24) scale(1.1199,1)">80</text>
<line x1="293.7" y1="382.50" x2="297.0" y2="382.50" stroke="#1e1e1e" stroke-width="1.15"/>
<text x="0" y="0" font-size="7.16" font-weight="normal" fill="#141414" transform="translate(276.93,384.30) scale(1.1199,1)">100</text>
<text x="0" y="0" font-size="8.2" fill="#141414" transform="translate(276.3,496.15) rotate(-90) scale(0.8057,1)" style="stroke-width:0.14px">T cell donor chimerism (%)</text>
<circle cx="305" cy="532.2" r="2.4" fill="#000"/>
<circle cx="309.1" cy="532.2" r="2.4" fill="#000"/>
<circle cx="313.2" cy="532.2" r="2.4" fill="#000"/>
<path d="M323.2 532.2V526.1H336.8V532.2" fill="none" stroke="#2a62a0" stroke-width="1.1"/>
<line x1="330.3" y1="518.2" x2="330.3" y2="532.2" stroke="#2a62a0" stroke-width="1.0"/>
<line x1="326.8" y1="518.2" x2="333.8" y2="518.2" stroke="#2a62a0" stroke-width="1.3"/>
<path d="M326.20 518.22L328.80 523.02L323.60 523.02Z" fill="#0d4c8c"/>
<path d="M334.40 516.82L337.00 521.62L331.80 521.62Z" fill="#0d4c8c"/>
<path d="M326.20 529.62L328.80 534.42L323.60 534.42Z" fill="#0d4c8c"/>
<path d="M334.10 529.62L336.70 534.42L331.50 534.42Z" fill="#0d4c8c"/>
<path d="M344.6 532.2V460H357.7V532.2" fill="none" stroke="#6e3386" stroke-width="1.1"/>
<line x1="351.2" y1="425.4" x2="351.2" y2="493.7" stroke="#6e3386" stroke-width="1.0"/>
<line x1="347.95" y1="425.4" x2="354.45" y2="425.4" stroke="#6e3386" stroke-width="1.3"/>
<line x1="347.95" y1="493.7" x2="354.45" y2="493.7" stroke="#6e3386" stroke-width="1.3"/>
<path d="M351.40 401.90L354.10 404.60L351.40 407.30L348.70 404.60Z" fill="#4b1a66"/>
<path d="M351.40 453.30L354.10 456.00L351.40 458.70L348.70 456.00Z" fill="#4b1a66"/>
<path d="M351.40 464.20L354.10 466.90L351.40 469.60L348.70 466.90Z" fill="#4b1a66"/>
<path d="M351.40 471.00L354.10 473.70L351.40 476.40L348.70 473.70Z" fill="#4b1a66"/>
<path d="M351.40 494.30L354.10 497.00L351.40 499.70L348.70 497.00Z" fill="#4b1a66"/>
<text x="0" y="0" font-size="7.31" font-weight="normal" fill="#141414" transform="translate(317.93,543.60) scale(1.0265,1)">4 weeks</text>
<circle cx="378.2" cy="532.2" r="2.4" fill="#000"/>
<circle cx="382.5" cy="532.2" r="2.4" fill="#000"/>
<circle cx="387" cy="532.2" r="2.4" fill="#000"/>
<path d="M396.9 532.2V529.6H410.8V532.2" fill="none" stroke="#2a62a0" stroke-width="1.1"/>
<line x1="403.7" y1="524.3" x2="403.7" y2="534.5" stroke="#2a62a0" stroke-width="1.0"/>
<line x1="400.2" y1="524.3" x2="407.2" y2="524.3" stroke="#2a62a0" stroke-width="1.3"/>
<line x1="400.2" y1="534.5" x2="407.2" y2="534.5" stroke="#2a62a0" stroke-width="1.3"/>
<path d="M403.60 518.62L406.20 523.42L401.00 523.42Z" fill="#0d4c8c"/>
<path d="M399.20 529.62L401.80 534.42L396.60 534.42Z" fill="#0d4c8c"/>
<path d="M403.70 529.62L406.30 534.42L401.10 534.42Z" fill="#0d4c8c"/>
<path d="M408.20 529.62L410.80 534.42L405.60 534.42Z" fill="#0d4c8c"/>
<path d="M418.2 532.2V429H431.3V532.2" fill="none" stroke="#6e3386" stroke-width="1.1"/>
<line x1="424.8" y1="398.9" x2="424.8" y2="456.9" stroke="#6e3386" stroke-width="1.0"/>
<line x1="421.55" y1="398.9" x2="428.05" y2="398.9" stroke="#6e3386" stroke-width="1.3"/>
<line x1="421.55" y1="456.9" x2="428.05" y2="456.9" stroke="#6e3386" stroke-width="1.3"/>
<path d="M424.80 382.10L427.50 384.80L424.80 387.50L422.10 384.80Z" fill="#4b1a66"/>
<path d="M424.80 408.90L427.50 411.60L424.80 414.30L422.10 411.60Z" fill="#4b1a66"/>
<path d="M420.20 440.10L422.90 442.80L420.20 445.50L417.50 442.80Z" fill="#4b1a66"/>
<path d="M429.00 441.10L431.70 443.80L429.00 446.50L426.30 443.80Z" fill="#4b1a66"/>
<path d="M423.00 453.20L425.70 455.90L423.00 458.60L420.30 455.90Z" fill="#4b1a66"/>
<path d="M426.40 453.20L429.10 455.90L426.40 458.60L423.70 455.90Z" fill="#4b1a66"/>
<text x="0" y="0" font-size="7.31" font-weight="normal" fill="#141414" transform="translate(387.92,543.60) scale(1.0340,1)">14 weeks</text>
<circle cx="452.1" cy="532.2" r="2.4" fill="#000"/>
<circle cx="456.4" cy="532.2" r="2.4" fill="#000"/>
<circle cx="460.7" cy="532.2" r="2.4" fill="#000"/>
<path d="M470.6 532.2V531.0H484.3V532.2" fill="none" stroke="#2a62a0" stroke-width="1.1"/>
<line x1="477.6" y1="528.5" x2="477.6" y2="534.5" stroke="#2a62a0" stroke-width="1.0"/>
<line x1="474.1" y1="528.5" x2="481.1" y2="528.5" stroke="#2a62a0" stroke-width="1.3"/>
<line x1="474.1" y1="534.5" x2="481.1" y2="534.5" stroke="#2a62a0" stroke-width="1.3"/>
<path d="M476.10 524.62L478.70 529.42L473.50 529.42Z" fill="#0d4c8c"/>
<path d="M472.60 529.62L475.20 534.42L470.00 534.42Z" fill="#0d4c8c"/>
<path d="M477.30 529.62L479.90 534.42L474.70 534.42Z" fill="#0d4c8c"/>
<path d="M482.00 529.62L484.60 534.42L479.40 534.42Z" fill="#0d4c8c"/>
<path d="M491.5 532.2V447.7H504.6V532.2" fill="none" stroke="#6e3386" stroke-width="1.1"/>
<line x1="498" y1="418.2" x2="498" y2="467.4" stroke="#6e3386" stroke-width="1.0"/>
<line x1="494.75" y1="418.2" x2="501.25" y2="418.2" stroke="#6e3386" stroke-width="1.3"/>
<line x1="494.75" y1="467.4" x2="501.25" y2="467.4" stroke="#6e3386" stroke-width="1.3"/>
<path d="M498.40 401.10L501.10 403.80L498.40 406.50L495.70 403.80Z" fill="#4b1a66"/>
<path d="M498.40 431.60L501.10 434.30L498.40 437.00L495.70 434.30Z" fill="#4b1a66"/>
<path d="M494.10 451.90L496.80 454.60L494.10 457.30L491.40 454.60Z" fill="#4b1a66"/>
<path d="M502.30 455.20L505.00 457.90L502.30 460.60L499.60 457.90Z" fill="#4b1a66"/>
<path d="M498.40 477.10L501.10 479.80L498.40 482.50L495.70 479.80Z" fill="#4b1a66"/>
<text x="0" y="0" font-size="7.31" font-weight="normal" fill="#141414" transform="translate(461.42,543.60) scale(1.0308,1)">26 weeks</text>
</g>
<rect x="0.5" y="0.5" width="519" height="549" fill="none" stroke="#000" stroke-width="2"/>
</svg>
</body></html>
